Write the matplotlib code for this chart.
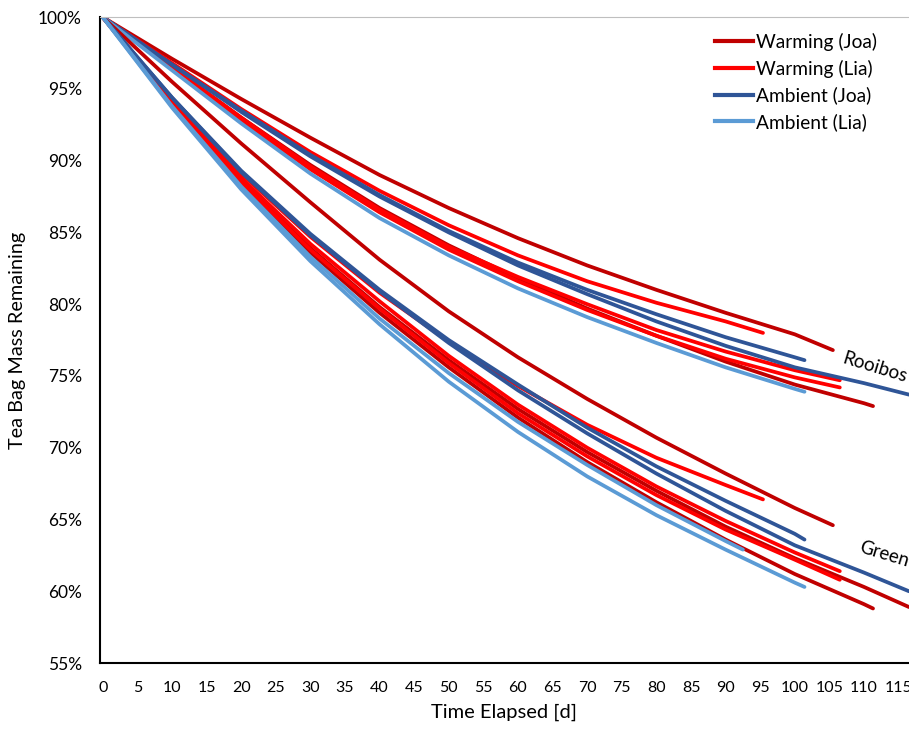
import matplotlib.pyplot as plt
from matplotlib.ticker import FuncFormatter

# sample days used for every line (every 10 d, last value is at the line's end day)
step_days = [0, 10, 20, 30, 40, 50, 60, 70, 80, 90, 100, 110]

# Rooibos - mass remaining [%]
rooibos_warm_joa_1 = [100, 97.1, 94.3, 91.6, 89.0, 86.7, 84.6, 82.7, 81.0, 79.4, 77.9, 76.8]
rooibos_warm_joa_2 = [100, 96.5, 93.0, 89.7, 86.7, 84.1, 81.8, 79.7, 77.8, 76.0, 74.4, 73.1, 72.9]
rooibos_warm_lia_1 = [100, 96.8, 93.6, 90.6, 87.9, 85.5, 83.4, 81.6, 80.1, 78.8, 78.0]
rooibos_warm_lia_2 = [100, 96.5, 93.0, 89.6, 86.6, 84.0, 81.9, 80.0, 78.2, 76.7, 75.4, 74.7]
rooibos_warm_lia_3 = [100, 96.4, 92.8, 89.4, 86.4, 83.8, 81.6, 79.6, 77.8, 76.2, 74.9, 74.2]
rooibos_amb_joa_1 = [100, 96.7, 93.5, 90.4, 87.6, 85.1, 82.9, 81.0, 79.3, 77.7, 76.3, 76.1]
rooibos_amb_joa_2 = [100, 96.7, 93.4, 90.3, 87.5, 85.0, 82.7, 80.7, 78.8, 77.1, 75.6, 74.5, 73.7]
rooibos_amb_lia_1 = [100, 96.3, 92.6, 89.1, 86.0, 83.4, 81.1, 79.1, 77.3, 75.6, 74.1, 73.9]
rooibos_end_days = [105.5, 111.3, 95.4, 106.5, 106.5, 101.4, 116.5, 101.4]

# Green tea - mass remaining [%]
green_warm_joa_1 = [100, 95.5, 91.2, 87.1, 83.1, 79.5, 76.3, 73.4, 70.7, 68.2, 65.8, 64.6]
green_warm_joa_2 = [100, 94.0, 88.4, 83.6, 79.4, 75.6, 72.1, 69.0, 66.2, 63.6, 61.2, 59.1, 58.8]
green_warm_joa_3 = [100, 94.1, 88.6, 83.9, 79.8, 76.1, 72.7, 69.7, 67.0, 64.5, 62.3, 60.3, 58.9]
green_warm_lia_1 = [100, 94.3, 89.1, 84.7, 80.8, 77.4, 74.3, 71.6, 69.3, 67.4, 66.4]
green_warm_lia_2 = [100, 94.2, 88.8, 84.2, 80.2, 76.4, 73.0, 70.0, 67.3, 64.9, 62.7, 61.4]
green_warm_lia_3 = [100, 94.0, 88.5, 83.8, 79.7, 75.9, 72.4, 69.4, 66.7, 64.3, 62.2, 60.8]
green_amb_joa_1 = [100, 94.4, 89.3, 84.9, 81.0, 77.5, 74.4, 71.4, 68.7, 66.3, 64.0, 63.6]
green_amb_joa_2 = [100, 94.4, 89.2, 84.8, 80.9, 77.3, 74.0, 71.0, 68.2, 65.6, 63.2, 61.3, 60.0]
green_amb_lia_1 = [100, 93.7, 88.0, 83.0, 78.6, 74.6, 71.1, 68.0, 65.3, 62.9, 60.6, 60.3]
green_amb_lia_2 = [100, 93.8, 88.2, 83.3, 79.0, 75.2, 71.8, 68.8, 66.0, 63.5, 62.9]
green_end_days = [105.5, 111.3, 116.5, 95.4, 106.5, 106.5, 101.4, 116.5, 101.4, 92.5]

series_names = ['Warming (Joa)', 'Warming (Lia)', 'Ambient (Joa)', 'Ambient (Lia)']
series_colors = ['#C00000', '#FF0000', '#2F5597', '#5B9BD5']

rooibos = [
    (rooibos_warm_joa_1, 0), (rooibos_warm_joa_2, 0),
    (rooibos_warm_lia_1, 1), (rooibos_warm_lia_2, 1), (rooibos_warm_lia_3, 1),
    (rooibos_amb_joa_1, 2), (rooibos_amb_joa_2, 2),
    (rooibos_amb_lia_1, 3),
]
green = [
    (green_warm_joa_1, 0), (green_warm_joa_2, 0), (green_warm_joa_3, 0),
    (green_warm_lia_1, 1), (green_warm_lia_2, 1), (green_warm_lia_3, 1),
    (green_amb_joa_1, 2), (green_amb_joa_2, 2),
    (green_amb_lia_1, 3), (green_amb_lia_2, 3),
]

plt.rcParams['font.family'] = ['Lato', 'DejaVu Sans']

fig = plt.figure(figsize=(9.09, 7.29), dpi=100)
ax = fig.add_axes([0.110, 0.0905, 0.890, 0.886])


def draw(lines, ends):
    for (vals, s), end in zip(lines, ends):
        days = [d for d in step_days if d < end] + [end]
        ax.plot(days, vals, color=series_colors[s], lw=2.7, solid_capstyle='round')


draw(rooibos, rooibos_end_days)
draw(green, green_end_days)

# legend (empty handles, one per series)
for name, c in zip(series_names, series_colors):
    ax.plot([], [], color=c, lw=3, label=name)
ax.legend(loc='upper left', bbox_to_anchor=(715 / 909, 1 - 33 / 729), bbox_transform=fig.transFigure,
          frameon=False, fontsize=13.8, borderpad=0, borderaxespad=0,
          handlelength=2.0, handletextpad=0.15, labelspacing=0.45)

ax.text(106.6, 75.6, 'Rooibos', rotation=-17, fontsize=13.5, ha='left', va='center', clip_on=False)
ax.text(109.0, 62.6, 'Green', rotation=-17, fontsize=13.5, ha='left', va='center', clip_on=False)

ax.set_xlim(-0.4, 116.5)
ax.set_ylim(55, 100)
ax.set_xticks(range(0, 120, 5))
ax.set_yticks(range(55, 101, 5))
ax.yaxis.set_major_formatter(FuncFormatter(lambda v, p: f'{v:.0f}%'))
ax.tick_params(length=0, labelsize=12.5)
ax.tick_params(axis='x', labelsize=11.5, pad=13)
ax.tick_params(axis='y', pad=13)

ax.set_xlabel('Time Elapsed [d]', fontsize=14.5, labelpad=6)
ax.set_ylabel('Tea Bag Mass Remaining', fontsize=14.3, labelpad=9)

ax.spines['right'].set_visible(False)
ax.spines['top'].set_color('#BFBFBF')
ax.spines['left'].set_linewidth(1.5)
ax.spines['bottom'].set_linewidth(1.5)

fig.savefig('out.png', dpi=100)
